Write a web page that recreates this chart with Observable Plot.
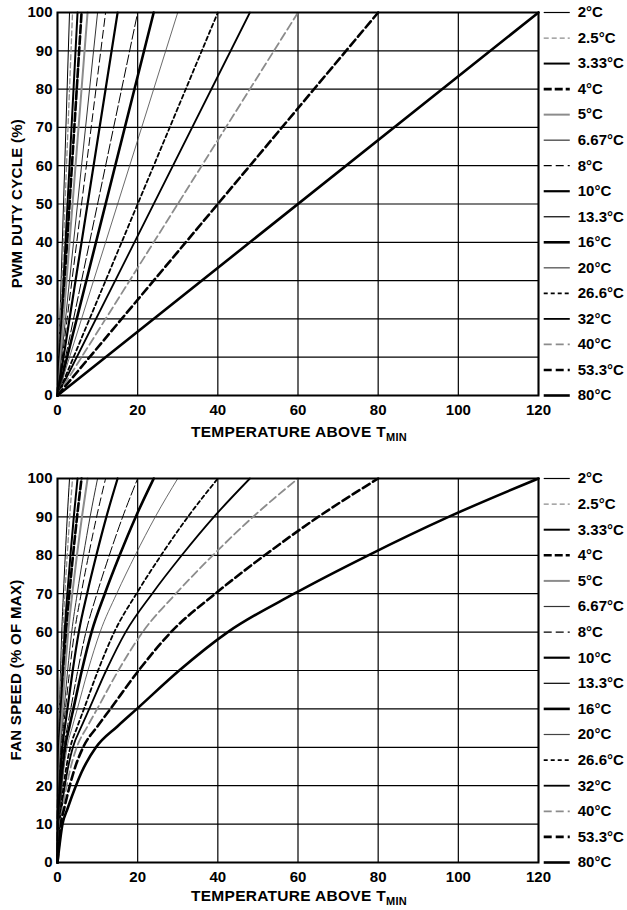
<!DOCTYPE html>
<html>
<head>
<meta charset="utf-8">
<script src="https://cdn.jsdelivr.net/npm/d3@7"></script>
<script src="https://cdn.jsdelivr.net/npm/@observablehq/plot@0.6"></script>
<style>
  html, body { margin: 0; padding: 0; background: #fff; }
  #wrap { width: 627px; }
  svg { display: block; }
</style>
</head>
<body>
<div id="wrap"></div>
<script>
// ---- data ----
const rangeLabels = ["2°C","2.5°C","3.33°C","4°C","5°C","6.67°C","8°C","10°C","13.3°C","16°C","20°C","26.6°C","32°C","40°C","53.3°C","80°C"];
// temperature above Tmin (x) where each curve reaches 100%
const fullScaleX = [3, 3.75, 5, 6, 7.5, 10, 12, 15, 20, 24, 30, 40, 48, 60, 80, 120];
// fan speed profile (read from the 80°C curve): PWM duty (%) -> fan speed (% of max)
const speedDuty = [0, 1.04, 2.08, 3.83, 5, 8, 12.5, 16.5, 25.3, 35.4, 49.2, 64.6, 81.3, 100];
const speedPct  = [0, 10, 14, 20, 23.5, 30, 35.5, 40, 50, 60, 70, 80, 90, 100];
const xTicks = [0, 20, 40, 60, 80, 100, 120];
const yTicks = [0, 10, 20, 30, 40, 50, 60, 70, 80, 90, 100];

// ---- styles ----
const colors = ["#000","#8c8c8c","#000","#000","#8c8c8c","#333","#000","#000","#000","#000","#444","#000","#000","#8c8c8c","#000","#000"];
const widths = [1, 1.3, 2, 2.6, 2, 1, 1, 2.2, 1, 2.6, 0.8, 1.8, 1.8, 1.8, 2.6, 2.6];
const dashes = [null, "5,3", null, "8,3", null, null, "8,4", null, "10,3", null, null, "4,3", null, "8,4", "8,4", null];
const legendDashes = [null, "5,3", null, "8,3", null, null, "8,4", null, null, null, null, "4,3", null, "8,4", "8,4", null];

const FONT = "'Liberation Sans', Arial, Helvetica, sans-serif";

// tables
const pwmRows = fullScaleX.flatMap((e, i) => [{s: i, x: 0, y: 0}, {s: i, x: e, y: 100}]);
const fanRows = fullScaleX.flatMap((e, i) => speedDuty.map((d, j) => ({s: i, x: d * e / 100, y: speedPct[j]})));
const legendRows = rangeLabels.map((t, i) => ({i, t, y: 100 - i * 100 / 15}));

function makePlot(rows, curve, mt, mb) {
  const lineMarks = fullScaleX.map((_, i) => Plot.line(rows.filter(r => r.s === i), {
    x: "x", y: "y", curve, stroke: colors[i], strokeWidth: widths[i],
    strokeDasharray: dashes[i] || undefined
  }));
  const legendMarks = legendRows.map(r => Plot.link([r], {
    x1: 121.3, x2: 127.8, y1: "y", y2: "y",
    stroke: colors[r.i], strokeWidth: Math.max(widths[r.i], 1.2),
    strokeDasharray: legendDashes[r.i] || undefined
  }));
  return Plot.plot({
    width: 627, height: 455,
    marginLeft: 57, marginRight: 89, marginTop: mt, marginBottom: mb,
    style: {fontFamily: FONT, fontSize: "15px", fontWeight: "bold", color: "#000", background: "#fff", overflow: "visible"},
    x: {domain: [0, 120], ticks: xTicks, tickSize: 0, tickPadding: 9, label: null},
    y: {domain: [0, 100], ticks: yTicks, tickSize: 0, tickPadding: 5, label: null},
    marks: [
      Plot.gridX(xTicks, {stroke: "#000", strokeOpacity: 1, strokeWidth: 1.2}),
      Plot.gridY(yTicks, {stroke: "#000", strokeOpacity: 1, strokeWidth: 1.2}),
      ...lineMarks,
      Plot.frame({stroke: "#000", strokeWidth: 2}),
      ...legendMarks,
      Plot.text(legendRows, {x: 129.8, y: "y", text: "t", textAnchor: "start", fontSize: 15, fontWeight: "bold", fill: "#000"})
    ]
  });
}

function addTitles(svgNode, yTitle, yTitleX, yTitleY, xTitleY) {
  const svg = d3.select(svgNode);
  const t = svg.append("text")
    .attr("x", 299).attr("y", xTitleY)
    .attr("text-anchor", "middle")
    .style("font-family", FONT).style("font-weight", "bold").style("font-size", "15.5px")
    .style("letter-spacing", "0.3px")
    .attr("fill", "#000");
  t.append("tspan").text("TEMPERATURE ABOVE T");
  t.append("tspan").attr("dy", 4).style("font-size", "11px").text("MIN");
  svg.append("text")
    .attr("transform", `translate(${yTitleX},${yTitleY}) rotate(-90)`)
    .attr("text-anchor", "middle")
    .style("font-family", FONT).style("font-weight", "bold").style("font-size", "15px")
    .style("letter-spacing", "0.3px")
    .attr("fill", "#000")
    .text(yTitle);
}

const wrapEl = document.getElementById("wrap");
const pwmChart = makePlot(pwmRows, "linear", 12, 60);
addTitles(pwmChart, "PWM DUTY CYCLE (%)", 22, 203.5, 437);
wrapEl.appendChild(pwmChart);

const fanChart = makePlot(fanRows, "monotone-x", 23, 48);
addTitles(fanChart, "FAN SPEED (% OF MAX)", 21, 215, 446);
wrapEl.appendChild(fanChart);
</script>
</body>
</html>
